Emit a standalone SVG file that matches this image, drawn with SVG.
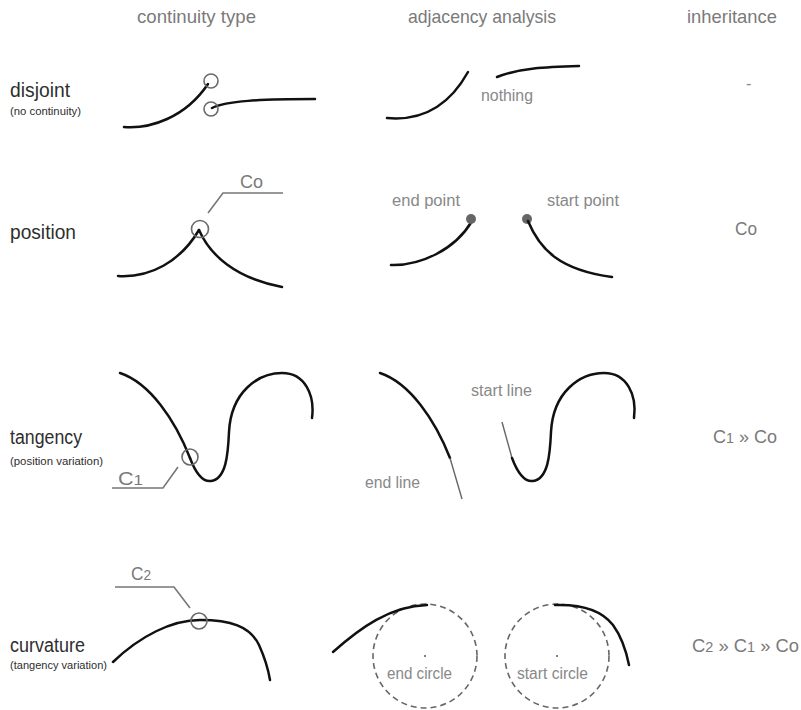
<svg xmlns="http://www.w3.org/2000/svg" width="801" height="710" viewBox="0 0 801 710">
<style>
text{font-family:"Liberation Sans",Arial,sans-serif}
.hd{font-size:19px;fill:#7a7a7a}
.rl{font-size:20px;fill:#2e2e2e}
.sub{font-size:11px;fill:#2e2e2e}
.lb{font-size:16px;fill:#888}
.cl{font-size:19px;fill:#7a7a7a}
.dg{font-size:15px}
.crv{fill:none;stroke:#111;stroke-width:2.5;stroke-linecap:round}
.ring{fill:none;stroke:#6a6a6a;stroke-width:1.6}
.lead{fill:none;stroke:#777;stroke-width:1.6}
.tan{fill:none;stroke:#666;stroke-width:1.4}
.dash{fill:none;stroke:#666;stroke-width:1.6;stroke-dasharray:6 4}
</style>
<rect width="801" height="710" fill="#fff"/>
<g id="headers">
<text class="hd" x="137" y="23" textLength="119" lengthAdjust="spacingAndGlyphs">continuity type</text>
<text class="hd" x="408" y="23" textLength="148" lengthAdjust="spacingAndGlyphs">adjacency analysis</text>
<text class="hd" x="687" y="23" textLength="90" lengthAdjust="spacingAndGlyphs">inheritance</text>
</g>
<g id="row-disjoint">
<text class="rl" x="10" y="97" textLength="60" lengthAdjust="spacingAndGlyphs">disjoint</text>
<text class="sub" x="10" y="115" textLength="71" lengthAdjust="spacingAndGlyphs">(no continuity)</text>
<path class="crv" d="M124,127 C150,129 185,118 208,84"/>
<path class="crv" d="M212,108 C226,101 260,99 315,99"/>
<circle class="ring" cx="211" cy="81" r="7"/>
<circle class="ring" cx="211" cy="109" r="7"/>
<path class="crv" d="M387,118 C420,121 448,108 468,72"/>
<path class="crv" d="M497,77 C520,68 545,67 579,66"/>
<text class="lb" x="481" y="101" textLength="52" lengthAdjust="spacingAndGlyphs">nothing</text>
<text class="lb" x="746" y="89">-</text>
</g>
<g id="row-position">
<text class="rl" x="10" y="239" textLength="66" lengthAdjust="spacingAndGlyphs">position</text>
<path class="crv" d="M118,276 C150,278 180,262 199,230"/>
<path class="crv" d="M199,230 C210,255 235,278 282,287"/>
<circle class="ring" cx="200" cy="229" r="8.5"/>
<path class="lead" d="M208,213 L223,193 L283,193"/>
<text class="cl" x="240" y="188" textLength="23" lengthAdjust="spacingAndGlyphs">Co</text>
<path class="crv" d="M391,265 C420,266 455,250 472,221"/>
<circle cx="471" cy="219" r="5" fill="#666"/>
<circle cx="527" cy="219" r="5" fill="#666"/>
<path class="crv" d="M528,221 C540,250 560,270 612,277"/>
<text class="lb" x="392" y="206" textLength="68" lengthAdjust="spacingAndGlyphs">end point</text>
<text class="lb" x="547" y="206" textLength="72" lengthAdjust="spacingAndGlyphs">start point</text>
<text class="cl" x="735" y="235" textLength="22" lengthAdjust="spacingAndGlyphs">Co</text>
</g>
<g id="row-tangency">
<text class="rl" x="10" y="444" textLength="72" lengthAdjust="spacingAndGlyphs">tangency</text>
<text class="sub" x="10" y="465" textLength="93" lengthAdjust="spacingAndGlyphs">(position variation)</text>
<path class="crv" d="M120,373 C150,383 175,420 190,458"/>
<path class="crv" d="M190,458 C196,474 203,482 211,481 C226,479 228,455 229,432 C231,392 258,373 282,373 C305,373 315,395 312,418"/>
<circle class="ring" cx="190" cy="457" r="8"/>
<path class="lead" d="M178,467 L163,488 L112,488"/>
<text class="cl" x="118" y="485" textLength="25" lengthAdjust="spacingAndGlyphs">C<tspan class="dg">1</tspan></text>
<path class="crv" d="M380,373 C410,383 435,420 450,458"/>
<path class="tan" d="M450,458 L462,499"/>
<path class="tan" d="M502,422 L512,458"/>
<path class="crv" d="M512,458 C518,474 525,482 533,481 C548,479 550,455 551,432 C553,392 580,373 604,373 C627,373 637,395 634,418"/>
<text class="lb" x="365" y="488" textLength="55" lengthAdjust="spacingAndGlyphs">end line</text>
<text class="lb" x="471" y="396" textLength="61" lengthAdjust="spacingAndGlyphs">start line</text>
<text class="cl" x="713" y="443" textLength="64" lengthAdjust="spacingAndGlyphs">C<tspan class="dg">1</tspan> » Co</text>
</g>
<g id="row-curvature">
<text class="rl" x="10" y="652" textLength="75" lengthAdjust="spacingAndGlyphs">curvature</text>
<text class="sub" x="10" y="669" textLength="97" lengthAdjust="spacingAndGlyphs">(tangency variation)</text>
<path class="crv" d="M113,662 C140,636 172,620 200,620 C230,620 250,626 259,645 C264,656 268,668 270,680"/>
<circle class="ring" cx="199" cy="621" r="8"/>
<path class="lead" d="M190,608 L174,587 L115,587"/>
<text class="cl" x="131" y="580" textLength="20" lengthAdjust="spacingAndGlyphs">C<tspan class="dg">2</tspan></text>
<circle class="dash" cx="425" cy="656" r="52"/>
<circle cx="425" cy="656" r="1" fill="#555"/>
<path class="crv" d="M333,652 C360,628 390,606 427,605"/>
<text class="lb" x="387" y="679" textLength="65" lengthAdjust="spacingAndGlyphs">end circle</text>
<circle class="dash" cx="557" cy="656" r="52"/>
<circle cx="557" cy="656" r="1" fill="#555"/>
<path class="crv" d="M555,605 C585,604 603,612 613,625 C621,636 626,650 629,665"/>
<text class="lb" x="517" y="679" textLength="71" lengthAdjust="spacingAndGlyphs">start circle</text>
<text class="cl" x="692" y="652" textLength="107" lengthAdjust="spacingAndGlyphs">C<tspan class="dg">2</tspan> » C<tspan class="dg">1</tspan> » Co</text>
</g>
</svg>
